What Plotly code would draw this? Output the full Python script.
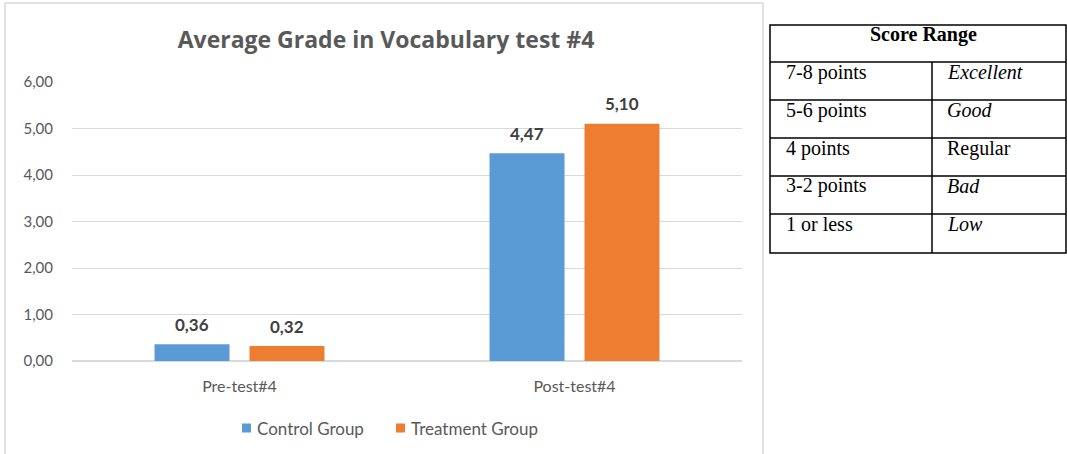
import plotly.graph_objects as go

categories = ["Pre-test#4", "Post-test#4"]
control = [0.36, 4.47]
treatment = [0.32, 5.10]
series_names = ["Control Group", "Treatment Group"]
y_ticks = [0, 1, 2, 3, 4, 5, 6]
table_header = "Score Range"
table_points = ["7-8 points", "5-6 points", "4 points", "3-2 points", "1 or less"]
table_labels = ["Excellent", "Good", "Regular", "Bad", "Low"]
table_italic = [True, True, False, True, True]

W, H = 1067, 454
def px(x): return x / W
def py(y): return (H - y) / H

FONT = "Lato"
GRAY = "#595959"
fig = go.Figure()
colors = ["#5B9BD5", "#ED7D31"]
for name, vals, c in zip(series_names, [control, treatment], colors):
    fig.add_trace(go.Bar(x=categories, y=vals, name=name, marker_color=c,
                         marker_line_width=0, showlegend=False))

# value labels
for i, vals in enumerate([control, treatment]):
    for j, v in enumerate(vals):
        fig.add_annotation(x=categories[j], y=v, text="<b>" + f"{v:.2f}".replace(".", ",") + "</b>",
                           showarrow=False, yshift=20, xshift=(-47.5 if i == 0 else 47.5),
                           font=dict(family=FONT, size=17, color="#404040"))

shapes = []
# chart border
shapes.append(dict(type="rect", xref="paper", yref="paper", x0=px(5), x1=px(763), y0=py(470), y1=py(3),
                   line=dict(color="#D9D9D9", width=1.5), fillcolor="rgba(0,0,0,0)", layer="below"))

# manual legend (series names from data lists)
legend_sq = [242, 396]
legend_tx = [255, 409]
for name, c, sx, tx in zip(series_names, colors, legend_sq, legend_tx):
    shapes.append(dict(type="rect", xref="paper", yref="paper", x0=px(sx), x1=px(sx + 9),
                       y0=py(432.5), y1=py(423.5), fillcolor=c, line=dict(width=0)))
    fig.add_annotation(xref="paper", yref="paper", x=px(tx), y=py(428), text=name, showarrow=False,
                       xanchor="left", yanchor="middle", font=dict(family=FONT, size=17, color=GRAY))

# table
tx0, tx1, tcol = 770, 1066, 932
row_lines = [25, 62, 100, 138, 176, 214, 253]
shapes.append(dict(type="rect", xref="paper", yref="paper", x0=px(tx0), x1=px(tx1), y0=py(253), y1=py(25),
                   line=dict(color="black", width=1.5)))
for y in row_lines[1:-1]:
    shapes.append(dict(type="line", xref="paper", yref="paper", x0=px(tx0), x1=px(tx1), y0=py(y), y1=py(y),
                       line=dict(color="black", width=1.5)))
shapes.append(dict(type="line", xref="paper", yref="paper", x0=px(tcol), x1=px(tcol), y0=py(62), y1=py(253),
                   line=dict(color="black", width=1.5)))

SERIF = "Liberation Serif"
fig.add_annotation(xref="paper", yref="paper", x=px(923), y=py(34), text="<b>" + table_header + "</b>",
                   showarrow=False, xanchor="center", yanchor="middle",
                   font=dict(family=SERIF, size=20, color="black"))
for k, (p, lab, it) in enumerate(zip(table_points, table_labels, table_italic)):
    yc = row_lines[k + 1] + 10
    fig.add_annotation(xref="paper", yref="paper", x=px(784), y=py(yc), text=p, showarrow=False,
                       xanchor="left", yanchor="middle", font=dict(family=SERIF, size=20, color="black"))
    fig.add_annotation(xref="paper", yref="paper", x=px(945), y=py(yc),
                       text=("<i>" + lab + "</i>") if it else lab, showarrow=False,
                       xanchor="left", yanchor="middle", font=dict(family=SERIF, size=20, color="black"))

fig.update_layout(
    width=W, height=H,
    margin=dict(l=0, r=0, t=0, b=0, autoexpand=False),
    paper_bgcolor="white", plot_bgcolor="white",
    separators=",.",
    barmode="group", bargap=0.433, bargroupgap=0.2105,
    showlegend=False,
    title=dict(text="Average Grade in Vocabulary test #4", x=px(386), xanchor="center",
               y=py(40), yanchor="middle",
               font=dict(family="Open Sans", size=23, weight=700, color=GRAY)),
    xaxis=dict(domain=[px(72), px(742)], range=[-0.5, 1.5], showgrid=False, showline=False,
               ticks="", automargin=False, ticklabelstandoff=14,
               tickfont=dict(family=FONT, size=16, color=GRAY)),
    yaxis=dict(domain=[py(361), py(82)], range=[0, 6], tickvals=y_ticks, tickformat=".2f",
               showgrid=True, gridcolor="#D9D9D9", gridwidth=1, zeroline=True, zerolinecolor="#D9D9D9",
               showline=False, ticks="", ticklabelstandoff=18, automargin=False,
               tickfont=dict(family=FONT, size=15, color=GRAY)),
    shapes=shapes,
)
fig.write_html("out.html", config={"displayModeBar": False},
               post_script="document.body.style.margin='0px';document.body.style.overflow='hidden';")
